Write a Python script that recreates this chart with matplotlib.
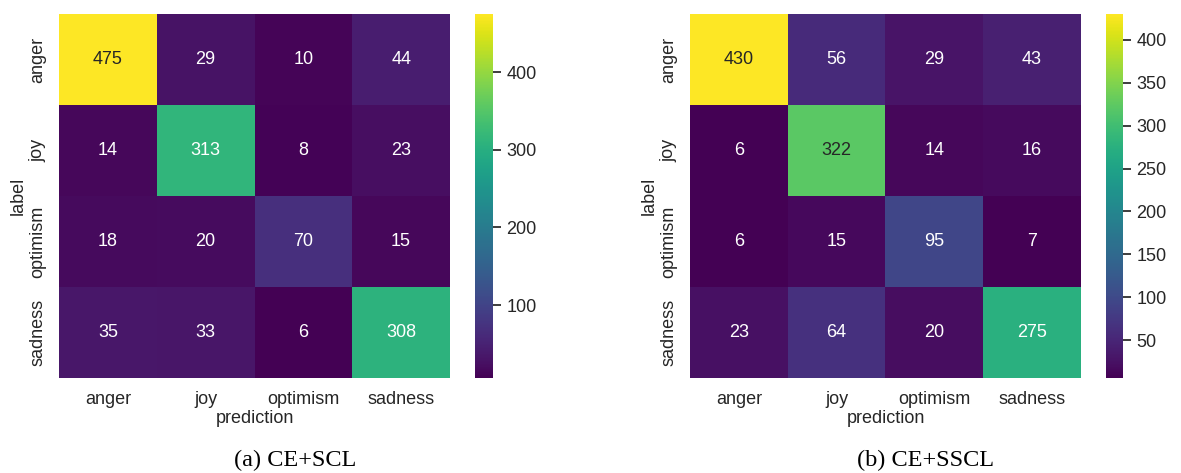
import numpy as np
import matplotlib
matplotlib.use('Agg')
import matplotlib.pyplot as plt
import seaborn as sns

classes = ['anger', 'joy', 'optimism', 'sadness']
cm_scl = np.array([[475, 29, 10, 44],
                   [14, 313, 8, 23],
                   [18, 20, 70, 15],
                   [35, 33, 6, 308]])
cm_sscl = np.array([[430, 56, 29, 43],
                    [6, 322, 14, 16],
                    [6, 15, 95, 7],
                    [23, 64, 20, 275]])
captions = ['(a) CE+SCL', '(b) CE+SSCL']

sns.set_theme()
plt.rcParams['font.family'] = ['Liberation Sans', 'DejaVu Sans']
fs = 13

W, H = 1181., 473.
fig = plt.figure(figsize=(W / 100, H / 100), dpi=100)


def box(x0, y0, x1, y1):
    return [x0 / W, 1 - y1 / H, (x1 - x0) / W, (y1 - y0) / H]


# heatmap box, colorbar box, caption centre (pixels)
layout = [((59, 14, 450, 378), (475, 14, 493, 378), 295),
          ((690, 14, 1081, 378), (1106, 14, 1123, 378), 926)]

for cm, cap, (hb, cb, cx) in zip([cm_scl, cm_sscl], captions, layout):
    ax = fig.add_axes(box(*hb))
    cax = fig.add_axes(box(*cb))
    sns.heatmap(cm, annot=True, fmt='d', cmap='viridis', ax=ax, cbar_ax=cax,
                xticklabels=classes, yticklabels=classes,
                annot_kws={'fontsize': fs})
    ax.set_xlabel('prediction', fontsize=fs, labelpad=2)
    ax.set_ylabel('label', fontsize=fs, labelpad=2)
    ax.tick_params(labelsize=fs, pad=3)
    cax.tick_params(labelsize=fs)
    fig.text(cx / W, 1 - 460 / H, cap, ha='center', va='center',
             fontsize=17.5, family='Liberation Serif', color='black')

fig.savefig('out.png', dpi=100, facecolor='white')
